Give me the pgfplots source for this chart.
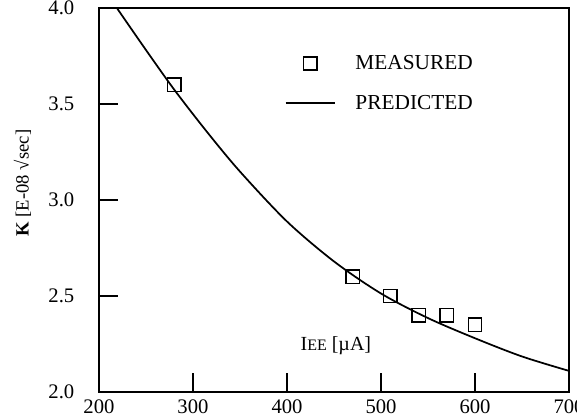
\documentclass[border=0pt]{standalone}
\usepackage{pgfplots}
\pgfplotsset{compat=1.18}
\usepackage{fontspec}
\setmainfont{Liberation Serif}
\begin{document}
\begin{tikzpicture}
\begin{axis}[
  scale only axis,
  width=352.5pt, height=288pt,
  xmin=200, xmax=700, ymin=2.0, ymax=4.0,
  axis line style={line width=1pt},
  xtick={200,300,...,700},
  ytick={2.0,2.5,3.0,3.5,4.0},
  tick align=inside,
  xtick pos=bottom, ytick pos=left,
  major tick length=14pt,
  tick style={line width=1pt, black},
  /pgf/number format/assume math mode=true,
  yticklabel style={/pgf/number format/fixed, /pgf/number format/fixed zerofill, /pgf/number format/precision=1, xshift=-15pt, font=\fontsize{15.5}{15.5}\selectfont},
  xticklabel style={yshift=-2pt, font=\fontsize{15.5}{15.5}\selectfont},
  ylabel={\textbf{K} [E-08 √sec]},
  ylabel style={at={(axis description cs:-0.163,0.544)}, anchor=center, inner sep=1pt, font=\fontsize{14}{14}\selectfont},
  legend style={draw=none, fill=none, at={(0.386,0.891)}, anchor=north west,
    font=\fontsize{16}{16}\selectfont, row sep=13.5pt, cells={anchor=west},
    legend cell align=left},
]
\addplot[only marks, mark=square, mark size=5pt, mark options={line width=1.1pt, black},
  legend image code/.code={\path[draw=none] (0cm,0cm) -- (1.3cm,0cm); \draw[mark=square, mark size=5pt, mark options={line width=1.1pt, black}] plot coordinates {(0.65cm,0cm)};}]
  coordinates {(280,3.6) (470,2.6) (510,2.5) (540,2.4) (570,2.4) (600,2.35)};
\addlegendentry{\hspace{0.45cm}MEASURED}
\addplot[black, line width=1.3pt, smooth, no marks,
  legend image code/.code={\draw[line width=1.3pt] (0cm,0cm) -- (1.3cm,0cm);}]
  coordinates {(219,4.0) (250,3.781) (280,3.575) (315,3.354) (350,3.148) (400,2.888)
   (450,2.680) (500,2.513) (550,2.385) (600,2.280) (650,2.185) (700,2.11)};
\addlegendentry{\hspace{0.45cm}PREDICTED}
\node[font=\fontsize{15}{15}\selectfont] at (axis cs:452,2.241) {I{\fontsize{12}{12}\selectfont EE} [\textmu A]};
\end{axis}
\pgfresetboundingbox
\path ([shift={(-74.25pt,-20.25pt)}]current axis.south west) rectangle ([shift={(6pt,6pt)}]current axis.north east);
\end{tikzpicture}
\end{document}
